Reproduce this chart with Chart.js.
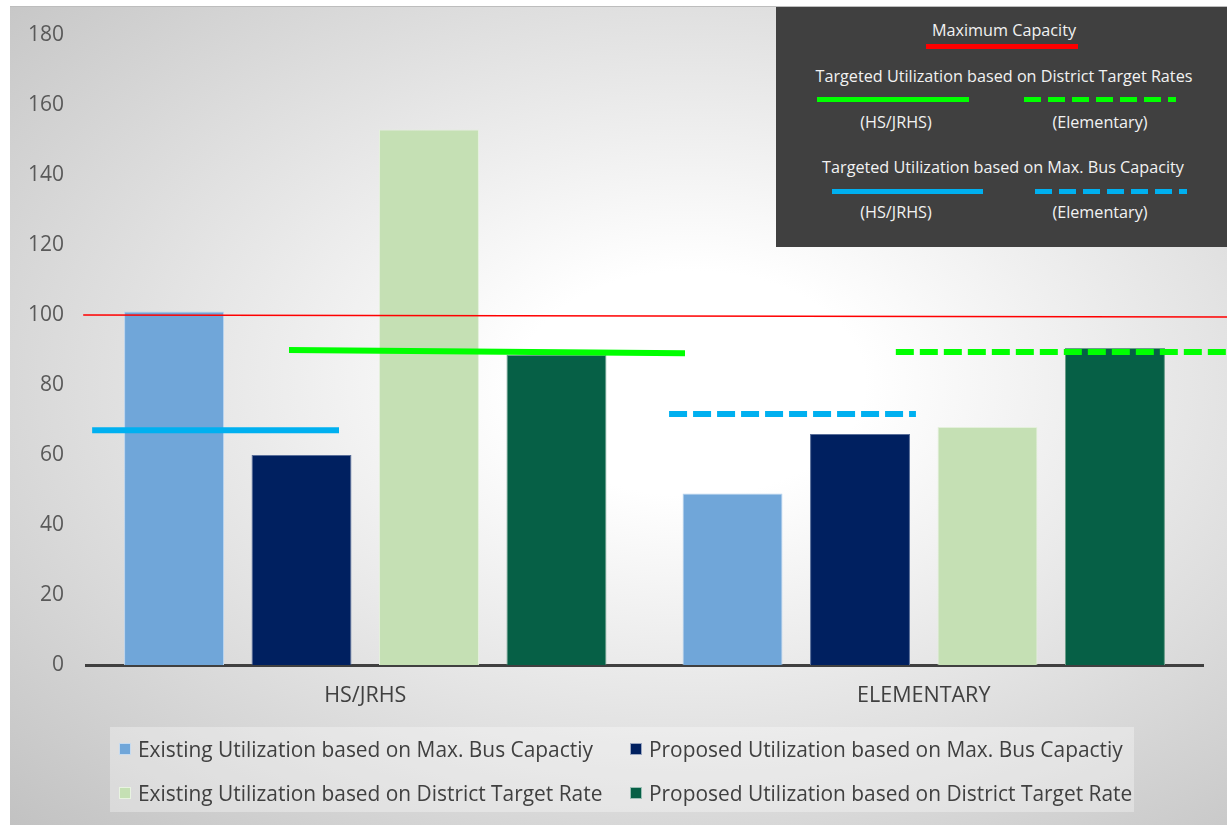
<!DOCTYPE html>
<html>
<head>
<meta charset="utf-8">
<script src="https://cdn.jsdelivr.net/npm/chart.js@4.4.1/dist/chart.umd.min.js"></script>
<style>
  html, body { margin: 0; padding: 0; background: #ffffff; }
  body { width: 1227px; height: 827px; position: relative; overflow: hidden; font-family: 'Open Sans', sans-serif; }
  #bg { position: absolute; left: 10px; top: 6px; width: 1217px; height: 818px;
        background: radial-gradient(ellipse farthest-corner at 56% 46%, #ffffff 0%, #ffffff 18%, #c2c2c2 100%);
        border-top: 1px solid #bdbdbd; }
  #wrap { position: absolute; left: 0; top: 0; width: 1227px; height: 827px; }
  #topLegend { position: absolute; left: 776px; top: 7px; width: 451px; height: 240px; background: #404040; color: #f2f2f2; font-size: 16.2px; }
  #topLegend .t { position: absolute; white-space: nowrap; transform: translate(-50%, -50%); }
  #topLegend .ln { position: absolute; height: 0; }
  #bottomLegend { position: absolute; left: 110px; top: 727px; width: 1024px; height: 85px; background: rgba(255,255,255,0.32); color: #404040; font-size: 20.9px; }
  #bottomLegend .item { position: absolute; white-space: nowrap; display: flex; align-items: center; transform: translateY(-50%); }
  #bottomLegend .sw { width: 12px; height: 12px; margin-right: 7px; box-sizing: border-box; border: 1px solid rgba(255,255,255,0.6); }
</style>
</head>
<body>
<div id="bg"></div>
<div id="wrap"><canvas id="c" width="1227" height="827"></canvas></div>
<div id="topLegend"></div>
<div id="bottomLegend"></div>
<script>
// ---- data ----
const categories = ['HS/JRHS', 'ELEMENTARY'];
const existingBus = [101, 49];
const proposedBus = [60, 66];
const existingTarget = [153, 68];
const proposedTarget = [88.6, 90.6];

const yMin = 0, yMax = 180, yStep = 20;

// reference lines (x in category units: 0..2 across the plot, y in values)
const maxCapX = [-0.005, 2.043];
const maxCapY = [100, 99.4];
const targetHsX = [0.3635, 1.0725];
const targetHsY = [90, 89.1];
const targetElemX = [1.450, 2.043];
const targetElemY = [89.4, 89.4];
const busHsX = [0.011, 0.453];
const busHsY = [67.1, 67.1];
const busElemX = [1.044, 1.486];
const busElemY = [71.7, 71.7];

const seriesNames = [
  'Existing Utilization based on Max. Bus Capactiy',
  'Proposed Utilization based on Max. Bus Capactiy',
  'Existing Utilization based on District Target Rate',
  'Proposed Utilization based on District Target Rate'
];
const seriesColors = ['#70a6d9', '#002060', '#c5e0b4', '#066046'];
const seriesBorders = ['#b9d3ee', '#5a6f9a', '#e4f0dc', '#6a9d8a'];

const RED = '#ff0000', GREEN = '#00ff00', BLUE = '#00b0f0';

const refLines = [
  { xs: maxCapX, ys: maxCapY, color: RED, width: 1.5, dash: [] },
  { xs: targetHsX, ys: targetHsY, color: GREEN, width: 6, dash: [] },
  { xs: targetElemX, ys: targetElemY, color: GREEN, width: 6, dash: [18, 6] },
  { xs: busHsX, ys: busHsY, color: BLUE, width: 6, dash: [] },
  { xs: busElemX, ys: busElemY, color: BLUE, width: 6, dash: [18, 6] }
];

const refLinePlugin = {
  id: 'refLines',
  afterDatasetsDraw(chart) {
    const ctx = chart.ctx, xs = chart.scales.x2, ys = chart.scales.y;
    ctx.save();
    refLines.forEach(l => {
      ctx.beginPath();
      ctx.strokeStyle = l.color; ctx.lineWidth = l.width; ctx.setLineDash(l.dash); ctx.lineCap = 'butt';
      l.xs.forEach((x, i) => {
        const px = xs.getPixelForValue(x), py = ys.getPixelForValue(l.ys[i]);
        if (i === 0) ctx.moveTo(px, py); else ctx.lineTo(px, py);
      });
      ctx.stroke();
    });
    ctx.restore();
  }
};

const barSets = [existingBus, proposedBus, existingTarget, proposedTarget].map((d, i) => ({
  label: seriesNames[i], data: d, backgroundColor: seriesColors[i],
  borderColor: seriesBorders[i], borderWidth: 1, categoryPercentage: 0.913, barPercentage: 0.784
}));

new Chart(document.getElementById('c'), {
  type: 'bar',
  data: { labels: categories, datasets: barSets },
  plugins: [refLinePlugin],
  options: {
    responsive: false, animation: false,
    layout: { padding: { left: 0, right: 24, top: 35, bottom: 112 } },
    plugins: { legend: { display: false }, tooltip: { enabled: false } },
    scales: {
      x: {
        type: 'category', offset: true,
        grid: { display: false, drawTicks: false },
        border: { display: true, color: '#404040', width: 3 },
        ticks: { color: '#404040', font: { family: 'Open Sans', size: 21.5 }, padding: 18 },
        afterFit: s => { s.height = 50; }
      },
      x2: { type: 'linear', display: false, min: 0, max: 2, offset: false },
      y: {
        min: yMin, max: yMax,
        grid: { display: false, drawTicks: false },
        border: { display: false },
        ticks: { stepSize: yStep, color: '#595959', font: { family: 'Open Sans', size: 21 }, padding: 22 },
        afterFit: s => { s.width = 86; }
      }
    }
  }
});

// ---- top-right legend box (HTML) ----
const TL = document.getElementById('topLegend');
function tText(txt, cx, cy) { const d = document.createElement('div'); d.className = 't'; d.textContent = txt; d.style.left = (cx - 776) + 'px'; d.style.top = (cy - 7) + 'px'; TL.appendChild(d); }
function tLine(x1, x2, y, color, dashed) {
  const d = document.createElement('div'); d.className = 'ln';
  d.style.left = (x1 - 776) + 'px'; d.style.width = (x2 - x1) + 'px'; d.style.top = (y - 7 - 2.5) + 'px';
  d.style.height = '5px';
  if (dashed) d.style.background = 'repeating-linear-gradient(90deg,' + color + ' 0 17px, transparent 17px 24px)';
  else d.style.background = color;
  TL.appendChild(d);
}
tText('Maximum Capacity', 1004, 30);
tLine(926, 1078, 46, RED);
tText('Targeted Utilization based on District Target Rates', 1004, 76);
tLine(817, 969, 99, GREEN);
tLine(1024, 1176, 99, GREEN, true);
tText('(HS/JRHS)', 896, 122);
tText('(Elementary)', 1100, 122);
tText('Targeted Utilization based on Max. Bus Capacity', 1003, 167);
tLine(832, 983, 191, BLUE);
tLine(1035, 1187, 191, BLUE, true);
tText('(HS/JRHS)', 896, 212);
tText('(Elementary)', 1100, 212);

// ---- bottom legend (HTML) ----
const BL = document.getElementById('bottomLegend');
const legendPos = [[119, 749], [630, 749], [119, 793], [630, 793]];
seriesNames.forEach((n, i) => {
  const it = document.createElement('div'); it.className = 'item';
  it.style.left = (legendPos[i][0] - 110) + 'px'; it.style.top = (legendPos[i][1] - 727) + 'px';
  const sw = document.createElement('span'); sw.className = 'sw'; sw.style.background = seriesColors[i];
  const tx = document.createElement('span'); tx.textContent = n;
  it.appendChild(sw); it.appendChild(tx); BL.appendChild(it);
});
</script>
</body>
</html>
